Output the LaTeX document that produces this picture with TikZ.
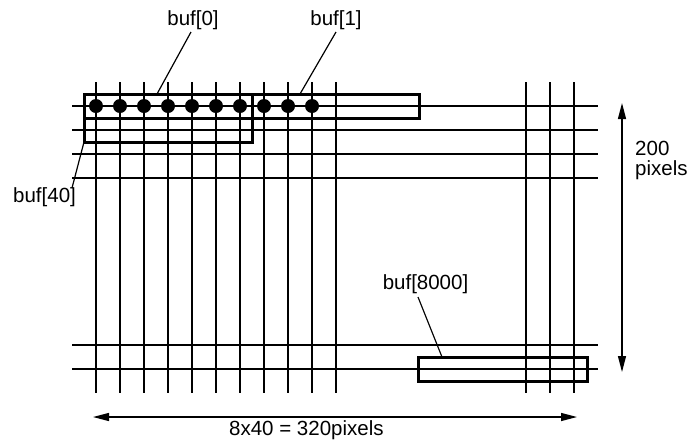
\documentclass[tikz,border=0pt]{standalone}
\usepackage{fontspec}
\setmainfont{Liberation Sans}
\usetikzlibrary{arrows.meta}
\begin{document}
\begin{tikzpicture}[x=1pt,y=-1pt,
  gridline/.style={line width=1.2pt},
  bufbox/.style={draw,line width=3pt},
  leader/.style={line width=1.2pt},
  dimarrow/.style={line width=1.3pt,{Triangle[length=16pt,width=8pt]}-{Triangle[length=16pt,width=8pt]}},
  lbl/.style={font=\fontsize{20.5}{24}\selectfont,inner sep=2pt},
  pix/.style={circle,fill=black,inner sep=0pt,minimum size=14pt}]
\useasboundingbox (0,0) rectangle (688,440);
% grid
\foreach \y in {106,130,154,178,345,369}
  \draw[gridline] (72,\y) -- (598,\y);
\foreach \x in {96,120,...,336,526,550,574}
  \draw[gridline] (\x,82) -- (\x,393);
% buffers
\draw[bufbox] (84,94) rectangle (252,142);
\draw[bufbox] (84,94) rectangle (419,118);
\draw[bufbox] (418,357) rectangle (587,381);
% pixels
\foreach \x [count=\i] in {96,120,...,312}
  \node[pix] (d\i) at (\x,106) {};
% labels
\node[lbl,anchor=base] (l0) at (193,25) {buf[0]};
\node[lbl,anchor=base] (l1) at (336,25) {buf[1]};
\node[lbl,anchor=base west] (l40) at (11,202) {buf[40]};
\node[lbl,anchor=base] (l8) at (425.5,289) {buf[8000]};
\coordinate (s0) at (191,32);
\coordinate (e0) at (157,94);
\coordinate (s1) at (336,32);
\coordinate (e1) at (300,94);
\coordinate (s40) at (72,188);
\coordinate (e40) at (84,142);
\coordinate (s8) at (418,297);
\coordinate (e8) at (442,357);
\draw[leader] (s0) -- (e0);
\draw[leader] (s1) -- (e1);
\draw[leader] (s40) -- (e40);
\draw[leader] (s8) -- (e8);
% dimensions
\coordinate (vt) at (622,103);
\coordinate (vb) at (622,372);
\draw[dimarrow] (vt) -- (vb);
\node[lbl,anchor=base west] (h1) at (633,155) {200};
\node[lbl,anchor=base west] (h2) at (633,175) {pixels};
\coordinate (hl) at (93,417);
\coordinate (hr) at (577,417);
\draw[dimarrow] (hl) -- (hr);
\node[lbl,anchor=base west] (wl) at (227,435) {8x40 = 320pixels};
\end{tikzpicture}
\end{document}
